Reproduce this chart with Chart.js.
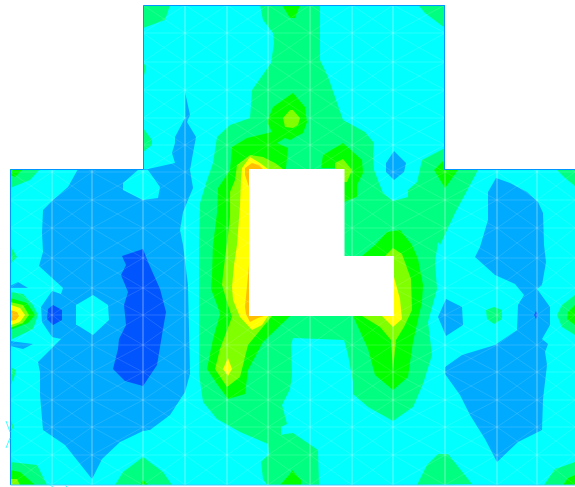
<!DOCTYPE html>
<html><head><meta charset="utf-8">
<style>html,body{margin:0;padding:0;background:#fff;overflow:hidden}canvas{display:block}</style>
<script src="https://cdn.jsdelivr.net/npm/chart.js@4"></script></head>
<body><canvas id="c" width="575" height="487"></canvas>
<script>
// Contour bands as [x, y] outlines (plate coordinates)
const plate=[[10.5,169.5],[143.5,169.5],[143.5,5.5],[444.5,5.5],[444.5,169.5],[575,169.5],[575,485],[10.5,485]];
const hole=[[249,169],[344.5,169],[344.5,256],[394,256],[394,316],[249,316]];
const blueLeft=[[78,169],[148,169],[175,163],[172,153],[175,143],[175,137],[185,118],[185,92],[190,115],[187,122],[196,137],[193,153],[190,170],[193,188],[183,212],[180,230],[183,245],[188,285],[190,374],[185,392],[170,415],[150,430],[143,431],[120,442],[102,459],[92,479],[65,445],[43,430],[40,395],[40,372],[38,362],[61,339],[52,337],[42,322],[41,307],[52,291],[61,294],[63,288],[39,266],[43,252],[42,233],[43,210],[53,200],[68,187]];
const cyanIsland=[[139,169],[123,183],[123,190],[143,200],[158,198],[160,187],[148,170]];
const cyanHex=[[93,295],[108,305],[109,320],[93,335],[77,325],[76,305]];
const sliverA=[[10,286],[18,282],[28,288],[10,288]];
const sliverB=[[10,341],[33,344],[23,349],[10,346]];
const blueRight=[[496,178],[510,183],[527,192],[538,202],[543,213],[544,245],[546,262],[542,285],[537,289],[550,307],[550,325],[542,339],[548,344],[545,352],[547,365],[543,399],[542,430],[518,442],[497,462],[485,439],[470,415],[460,395],[445,374],[445,367],[462,355],[495,345],[517,330],[518,305],[524,295],[515,284],[495,275],[475,257],[480,247],[488,220],[488,192]];
const blueDot=[[446,299],[462,307],[463,325],[446,336],[438,317]];
const blueDiamond=[[394,151],[406,163],[404,172],[394,180],[386,172],[386,163]];
const deepMain=[[122,256],[143,249],[148,262],[160,289],[166,312],[163,329],[157,365],[143,386],[125,381],[113,369],[118,349],[119,339],[126,325],[124,305],[128,292],[121,275],[126,265]];
const deepSpot=[[53,305],[62,310],[62,320],[53,325],[47,319],[48,309]];
const deepPin=[[536,311],[538,315],[536,319],[534,315]];
const springMain=[[260,5],[263,20],[273,33],[274,43],[271,63],[252,90],[250,118],[230,125],[217,137],[213,163],[207,180],[200,203],[199,245],[199,374],[203,402],[217,419],[240,432],[268,444],[269,454],[261,462],[263,479],[267,485],[319,485],[318,450],[293,433],[285,434],[281,435],[281,427],[287,424],[282,405],[290,389],[292,375],[291,345],[293,338],[344,340],[348,355],[353,382],[353,394],[368,407],[393,421],[413,407],[423,384],[432,355],[428,322],[437,289],[435,262],[438,242],[440,245],[455,213],[478,170],[445,169],[445,148],[422,160],[417,182],[408,190],[408,197],[393,201],[383,193],[374,170],[373,155],[374,143],[365,132],[343,120],[328,77],[320,60],[320,5]];
const springPatches=[
 [[143,5],[170,5],[165,20],[143,28]],
 [[143,62],[146,67],[143,80]],
 [[143,128],[152,140],[152,145],[143,152]],
 [[418,5],[445,5],[445,28],[425,13]],
 [[10,169],[40,169],[30,180],[10,188]],
 [[10,245],[17,257],[10,264]],
 [[10,367],[16,370],[15,375],[10,387]],
 [[10,292],[23,294],[33,305],[38,315],[33,329],[27,332],[10,340]],
 [[10,419],[14,427],[10,432]],
 [[10,462],[37,465],[47,485],[10,485]],
 [[115,485],[123,472],[143,457],[163,472],[172,485]],
 [[417,485],[427,465],[438,454],[448,454],[472,484]],
 [[544,485],[555,469],[575,462],[575,485]],
 [[575,295],[562,305],[557,315],[562,327],[575,335]],
 [[494,307],[502,310],[502,319],[494,324],[487,319],[486,310]],
 [[557,170],[575,169],[575,186],[565,178]]
];
const greenPatches=[
 [[213,245],[217,213],[218,188],[230,170],[232,147],[247,138],[272,132],[267,122],[273,107],[290,95],[293,93],[305,107],[307,122],[303,133],[290,140],[285,138],[277,143],[288,148],[286,168],[286,316],[290,316],[263,342],[248,370],[245,394],[228,399],[217,384],[207,369],[213,339],[220,314],[217,305],[211,289],[212,275],[213,242]],
 [[282,5],[300,5],[295,18],[290,18]],
 [[280,485],[290,474],[292,470],[301,480],[301,485]],
 [[321,168],[323,155],[343,143],[362,160],[363,173],[357,185],[357,197],[344,202],[340,168]],
 [[375,245],[387,232],[400,230],[412,245],[418,259],[423,285],[422,302],[413,342],[408,377],[393,390],[375,375],[368,349],[353,316],[353,258],[362,256]],
 [[434,170],[443,161],[445,169],[458,170],[445,188]],
 [[10,298],[27,303],[35,315],[28,323],[10,330]],
 [[10,470],[20,472],[35,485],[10,485]],
 [[140,485],[143,480],[148,485]],
 [[575,305],[568,312],[567,319],[575,325]],
 [[563,485],[568,478],[575,475],[575,485]],
 [[10,169],[23,169],[15,177],[10,175]]
];
const limePatches=[
 [[283,118],[290,110],[293,110],[300,118],[298,125],[293,128],[285,127]],
 [[335,163],[343,159],[352,170],[347,182],[344,182],[344,169],[335,169]],
 [[227,245],[230,217],[230,192],[235,180],[237,165],[250,155],[263,157],[275,163],[283,169],[283,316],[272,316],[248,345],[240,377],[227,387],[215,369],[220,349],[232,317],[227,302],[222,285],[223,275],[227,242]],
 [[393,248],[402,254],[411,279],[412,310],[404,327],[396,340],[393,370],[391,340],[380,327],[362,316],[362,256],[385,256]],
 [[10,302],[23,305],[29,315],[23,323],[10,328]],
 [[10,479],[17,479],[20,485],[10,485]]
];
const yellowPatches=[
 [[237,245],[240,205],[241,178],[242,168],[250,157],[260,163],[268,169],[268,316],[262,325],[252,330],[240,317],[233,300],[232,287],[234,265]],
 [[228,358],[232,369],[228,376],[223,369]],
 [[394,277],[400,299],[402,319],[393,327],[382,316]],
 [[11,305],[20,308],[25,315],[20,322],[11,325]]
];
const orangePatches=[
 [[249,265],[245,307],[246,314],[250,322],[258,318],[264,316]],
 [[245,168],[252,163],[259,165],[263,169],[249,170],[249,187],[245,175]],
 [[10,310],[17,312],[19,316],[16,320],[10,321]]
];
const maskLeft=[[0,0],[143,0],[143,169],[10,169],[10,487],[0,487]];
const maskTop=[[143,0],[575,0],[575,5],[143,5]];
const maskRight=[[445,0],[575,0],[575,169],[445,169]];
const maskBottom=[[0,485.5],[575,485.5],[575,487],[0,487]];
const triadMarks=[[[6,421],[10,432]],[[10,438],[6,448]],[[50,485],[53,487]],[[65,485],[67,487]]];
// Mesh hub rows and columns
const meshX=[10,52,92,143,185,227,268,310,352,393,445,497,537,575];
const meshY=[5,33,62,90,118,145,172,200,228,258,288,315,345,372,400,427,455,485];

const COL={cyan:'#00ffff',blue:'#00aaff',deep:'#0055ff',spring:'#00ff80',green:'#00ff00',lime:'#80ff00',yellow:'#ffff00',orange:'#ffbf00',white:'#ffffff'};
const pts=a=>a.map(p=>({x:p[0],y:p[1]}));
const poly=(a,c)=>({data:pts(a),showLine:true,fill:'shape',backgroundColor:c,borderColor:c,borderWidth:0,pointRadius:0,tension:0});
const gap={x:null,y:null};
const meshMain=[],meshDiag=[];
const seg=(out,a,b)=>out.push({x:a[0],y:a[1]},{x:b[0],y:b[1]},gap);
meshX.slice(1,-1).forEach(x=>seg(meshMain,[x,5],[x,485]));
meshY.slice(1,-1).forEach(y=>seg(meshMain,[10,y],[575,y]));
for(let i=0;i<meshX.length-1;i++)for(let j=0;j<meshY.length-1;j++){
  const l=meshX[i],r=meshX[i+1],t=meshY[j],b=meshY[j+1];
  seg(meshDiag,[l,t],[r,b]);seg(meshDiag,[r,t],[l,b]);
}
const layers=[
 poly(plate,COL.cyan),poly(blueLeft,COL.blue),poly(cyanIsland,COL.cyan),poly(cyanHex,COL.cyan),
 poly(sliverA,COL.blue),poly(sliverB,COL.blue),poly(blueRight,COL.blue),poly(blueDot,COL.blue),poly(blueDiamond,COL.blue),
 poly(deepMain,COL.deep),poly(deepSpot,COL.deep),poly(deepPin,COL.deep),
 poly(springMain,COL.spring),...springPatches.map(a=>poly(a,COL.spring)),
 ...greenPatches.map(a=>poly(a,COL.green)),
 ...limePatches.map(a=>poly(a,COL.lime)),
 ...yellowPatches.map(a=>poly(a,COL.yellow)),
 ...orangePatches.map(a=>poly(a,COL.orange)),
 {data:meshMain,showLine:true,fill:false,borderColor:'rgba(255,255,255,0.16)',borderWidth:1,pointRadius:0,tension:0,spanGaps:false},
 {data:meshDiag,showLine:true,fill:false,borderColor:'rgba(255,255,255,0.12)',borderWidth:1,pointRadius:0,tension:0,spanGaps:false},
 poly(hole,COL.white),poly(maskLeft,COL.white),poly(maskTop,COL.white),poly(maskRight,COL.white),poly(maskBottom,COL.white),
 {data:pts([[10.5,485],[10.5,169.5],[143.5,169.5],[143.5,5.5],[444.5,5.5],[444.5,169.5],[575,169.5]]),showLine:true,fill:false,borderColor:'#0096ff',borderWidth:1,pointRadius:0,tension:0},
 {data:pts([[10.5,485],[575,485]]),showLine:true,fill:false,borderColor:'#40c8ff',borderWidth:1,pointRadius:0,tension:0},
 ...triadMarks.map(a=>({data:pts(a),showLine:true,fill:false,borderColor:'#40ffff',borderWidth:1,pointRadius:0,tension:0}))
];
new Chart(document.getElementById('c'),{type:'scatter',data:{datasets:layers.reverse()},options:{
 responsive:false,animation:false,events:[],layout:{padding:0},
 plugins:{legend:{display:false},tooltip:{enabled:false}},
 scales:{x:{type:'linear',display:false,min:0,max:575},y:{type:'linear',display:false,min:0,max:487,reverse:true}}
}});
</script></body></html>
